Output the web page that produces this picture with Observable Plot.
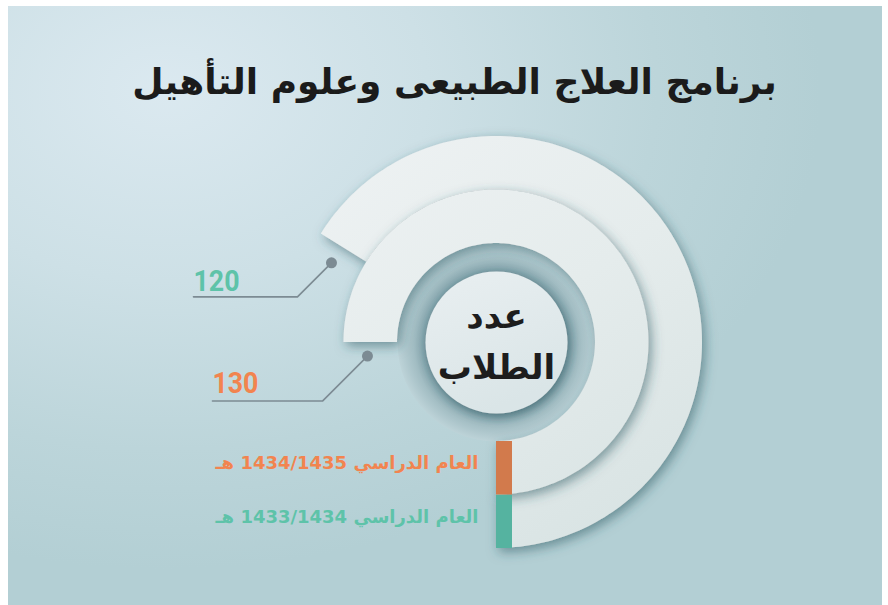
<!DOCTYPE html>
<html><head><meta charset="utf-8">
<script src="https://cdn.jsdelivr.net/npm/d3@7"></script>
<script src="https://cdn.jsdelivr.net/npm/@observablehq/plot@0.6"></script>
<style>
html,body{margin:0;padding:0;background:#fff;}
#wrap{position:relative;width:888px;height:605px;overflow:hidden;background:#fff;}
#panel{position:absolute;left:8px;top:6px;width:874px;height:599px;
  background:radial-gradient(ellipse 75% 80% at 18% 14%, #dbe9f0 0%, #cde0e6 40%, #bcd5da 75%, #b3cfd4 100%);}
#chart{position:absolute;left:0;top:0;}
</style></head><body>
<div id="wrap"><div id="panel"></div><div id="chart"></div></div>
<script>
// ---- data ----
const title = "برنامج العلاج الطبيعى وعلوم التأهيل";
const centerLines = ["عدد", "الطلاب"];
const years = ["العام الدراسي 1433/1434 هـ", "العام الدراسي 1434/1435 هـ"];
const students = [120, 130];

// ---- layout / style ----
const W = 888, H = 605, CX = 496, CY = 342;
const capColor = ["#55b3a0", "#d27a4c"];
const textColor = ["#5ec3a9", "#f2844f"];
const rows = years.map((year, i) => ({year, value: students[i], i}));

const radius = d3.scaleBand().domain([years[1], years[0]]).range([99, 206]);
const bw = radius.bandwidth();
const angle = d3.scaleLinear().domain([45, 130]).range([0, 1.5 * Math.PI]);
const polar = (a, r) => ({x: Math.sin(a) * r, y: Math.cos(a) * r});

const arcPts = rows.flatMap(d => {
  const a1 = angle(d.value), r0 = radius(d.year), r1 = r0 + bw;
  return d3.range(0, 181).map(k => {
    const a = a1 * k / 180;
    const p0 = polar(a, r0), p1 = polar(a, r1);
    return {year: d.year, x1: p0.x, y1: p0.y, x2: p1.x, y2: p1.y};
  });
});

const dotOffset = 6 * Math.PI / 180;
const drops = [34, 45], runs = [104, 110];
const leaders = rows.map(d => {
  const p = polar(angle(d.value) + dotOffset, radius(d.year) + bw / 2 + 4);
  const elbow = {x: p.x - drops[d.i], y: p.y + drops[d.i]};
  const end = {x: elbow.x - runs[d.i], y: elbow.y};
  return {...d, dot: p, elbow, end};
});
const leaderPts = leaders.flatMap(l => [l.end, l.elbow, l.dot].map(p => ({...p, year: l.year})));

const rtl = s => "\u202B" + s + "\u202C";

const marks = [
  Plot.dot([{x: 0, y: 0}], {x: "x", y: "y", r: radius.range()[0], fill: "url(#hole)", stroke: null}),
  Plot.area(arcPts, {x1: "x1", y1: "y1", x2: "x2", y2: "y2", z: "year", fill: "url(#ringGrad)", curve: "linear"}),
  Plot.rect(rows, {x1: 0, x2: 16, y1: d => radius(d.year), y2: d => radius(d.year) + bw, fill: "year"}),
  Plot.dot([{x: 0, y: 0}], {x: "x", y: "y", r: 71, fill: "url(#centerGrad)", stroke: null}),
  Plot.text([centerLines.join("\n")], {x: () => 0, y: () => 0, dy: -5, lineHeight: 1.5, fontSize: 34, fontWeight: "bold", fontFamily: "DejaVu Sans", fill: "#1d1d1d"}),
  Plot.line(leaderPts, {x: "x", y: "y", z: "year", stroke: "#7c8b93", strokeWidth: 1.6, curve: "linear"}),
  Plot.dot(leaders, {x: d => d.dot.x, y: d => d.dot.y, r: 5.5, fill: "#7c8b93", stroke: null}),
  ...leaders.map(l => Plot.text([l], {x: d => d.end.x, y: d => d.end.y, text: d => String(d.value), textAnchor: "start", lineAnchor: "bottom", dx: 0, dy: -6 - l.i * 2, fontSize: 30, fontWeight: "bold", fontFamily: "Roboto", fill: textColor[l.i]})),
  ...rows.map(r => Plot.text([r], {x: () => -18, y: d => radius(d.year) + bw / 2 - 5, text: d => rtl(d.year), textAnchor: "end", fontSize: 18, fontWeight: "bold", fontFamily: "DejaVu Sans", fill: textColor[r.i]})),
  Plot.text([title], {frameAnchor: "top", dx: 10, dy: 68, fontSize: 36, fontWeight: "bold", fontFamily: "DejaVu Sans", fill: "#1b1b1b"})
];

const svg = Plot.plot({
  width: W, height: H, margin: 0,
  x: {domain: [-CX, W - CX], range: [0, W], axis: null},
  y: {domain: [-CY, H - CY], range: [0, H], axis: null},
  color: {domain: years, range: capColor},
  style: {background: "transparent", overflow: "visible"},
  marks
});

const s = d3.select(svg);
const defs = s.insert("defs", ":first-child");
const lg = defs.append("linearGradient").attr("id", "ringGrad").attr("gradientUnits", "userSpaceOnUse")
  .attr("x1", CX - 150).attr("y1", CY - 210).attr("x2", CX + 120).attr("y2", CY + 210);
lg.append("stop").attr("offset", 0).attr("stop-color", "#eef2f3");
lg.append("stop").attr("offset", 0.5).attr("stop-color", "#e5ecec");
lg.append("stop").attr("offset", 1).attr("stop-color", "#d8e3e3");
const cg = defs.append("linearGradient").attr("id", "centerGrad").attr("x1", 0).attr("y1", 0).attr("x2", 0.4).attr("y2", 1);
cg.append("stop").attr("offset", 0).attr("stop-color", "#e9eff1");
cg.append("stop").attr("offset", 1).attr("stop-color", "#dae5e7");
const hg = defs.append("radialGradient").attr("id", "hole").attr("cx", 0.5).attr("cy", 0.5).attr("r", 0.5);
hg.append("stop").attr("offset", 0.68).attr("stop-color", "#7597a0");
hg.append("stop").attr("offset", 0.84).attr("stop-color", "#a2bdc3");
hg.append("stop").attr("offset", 1).attr("stop-color", "#bdd3d8");
const f = defs.append("filter").attr("id", "shadow").attr("x", "-30%").attr("y", "-30%").attr("width", "160%").attr("height", "160%");
f.append("feDropShadow").attr("dx", 3).attr("dy", 4).attr("stdDeviation", 6).attr("flood-color", "#2b5560").attr("flood-opacity", 0.55);
const f2 = defs.append("filter").attr("id", "shadow2").attr("x", "-40%").attr("y", "-40%").attr("width", "180%").attr("height", "180%");
f2.append("feDropShadow").attr("dx", 2).attr("dy", 3).attr("stdDeviation", 5).attr("flood-color", "#2b5560").attr("flood-opacity", 0.55);

s.selectAll('g[fill="url(#ringGrad)"] path').attr("filter", "url(#shadow)");
s.selectAll('g[fill="url(#centerGrad)"]').attr("filter", "url(#shadow2)");
// condensed look for the value labels
s.selectAll('g[font-family="Roboto"] text').attr("textLength", 46).attr("lengthAdjust", "spacingAndGlyphs");

document.getElementById("chart").appendChild(svg);
</script>
</body></html>
